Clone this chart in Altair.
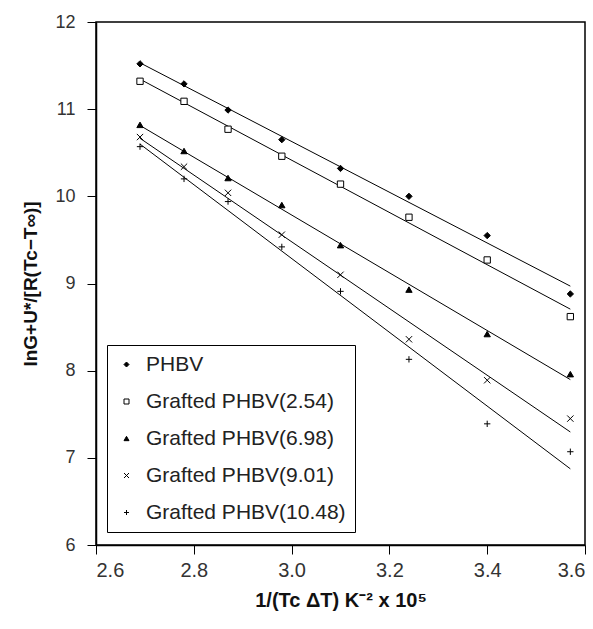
import altair as alt
import pandas as pd

x_vals = [2.69, 2.78, 2.87, 2.98, 3.10, 3.24, 3.40, 3.57]
series_names = ["PHBV", "Grafted PHBV(2.54)", "Grafted PHBV(6.98)",
                "Grafted PHBV(9.01)", "Grafted PHBV(10.48)"]
phbv = [11.52, 11.29, 10.99, 10.65, 10.32, 10.00, 9.55, 8.88]
g254 = [11.32, 11.09, 10.77, 10.46, 10.14, 9.76, 9.27, 8.62]
g698 = [10.82, 10.52, 10.21, 9.90, 9.44, 8.93, 8.42, 7.96]
g901 = [10.68, 10.34, 10.04, 9.56, 9.10, 8.36, 7.89, 7.45]
g1048 = [10.57, 10.20, 9.94, 9.42, 8.91, 8.13, 7.39, 7.07]

x_ticks = [2.6, 2.8, 3.0, 3.2, 3.4, 3.6]
y_ticks = [6, 7, 8, 9, 10, 11, 12]

rows = []
for name, ys in zip(series_names, [phbv, g254, g698, g901, g1048]):
    for xv, yv in zip(x_vals, ys):
        rows.append({"series": name, "x": xv, "y": yv})
df = pd.DataFrame(rows)

shapes = ["diamond", "square", "triangle-up",
          "M-1,-1L1,1M-1,1L1,-1", "M-1,0L1,0M0,-1L0,1"]
fills = ["black", "white", "black", "transparent", "transparent"]
strokes = ["black"] * 5

FONT = "Liberation Sans"

xscale = alt.Scale(domain=[2.6, 3.6], nice=False, zero=False)
yscale = alt.Scale(domain=[6, 12], nice=False, zero=False)

xenc = alt.X("x:Q", scale=xscale,
             axis=alt.Axis(values=x_ticks, format=".1f",
                           title="1/(Tc ΔT) K⁻² x 10⁵",
                           labelFontSize=20, titleFontSize=20,
                           labelPadding=6, titlePadding=10))
yenc = alt.Y("y:Q", scale=yscale,
             axis=alt.Axis(values=y_ticks, format="d",
                           title="lnG+U*/[R(Tc−T∞)]",
                           labelFontSize=18, titleFontSize=19,
                           labelPadding=12, titlePadding=14))

lines = alt.Chart(df).transform_regression(
    "x", "y", groupby=["series"]
).mark_line(color="black", strokeWidth=1).encode(
    x=xenc, y=yenc, detail="series:N"
)

leg = alt.Legend(title=None, orient="none", legendX=11, legendY=323)

points = alt.Chart(df).mark_point(opacity=1, strokeWidth=1, size=40).encode(
    x=xenc, y=yenc,
    shape=alt.Shape("series:N", scale=alt.Scale(domain=series_names, range=shapes),
                    legend=leg),
    fill=alt.Fill("series:N", scale=alt.Scale(domain=series_names, range=fills),
                  legend=leg),
    stroke=alt.Stroke("series:N", scale=alt.Scale(domain=series_names, range=strokes),
                      legend=leg),
)

chart = alt.layer(lines, points).properties(
    width=489, height=523,
    autosize=alt.AutoSizeParams(type="none"),
    padding={"left": 96, "top": 22, "right": 8, "bottom": 84},
).configure_view(
    stroke="black", strokeWidth=1.5
).configure_axis(
    grid=False, domainColor="black", tickColor="black", tickSize=9,
    labelColor="#333", labelFont=FONT, titleFont=FONT,
    titleFontWeight="bold", titleColor="#111", domainWidth=1.5
).configure_legend(
    labelFont=FONT, labelFontSize=21, labelColor="#222", labelLimit=0,
    strokeColor="black", padding=9, rowPadding=15,
    labelOffset=9, symbolSize=25, symbolStrokeWidth=1,
    fillColor="white"
)

chart.save("out.html", embed_options={"renderer": "svg", "actions": False})
